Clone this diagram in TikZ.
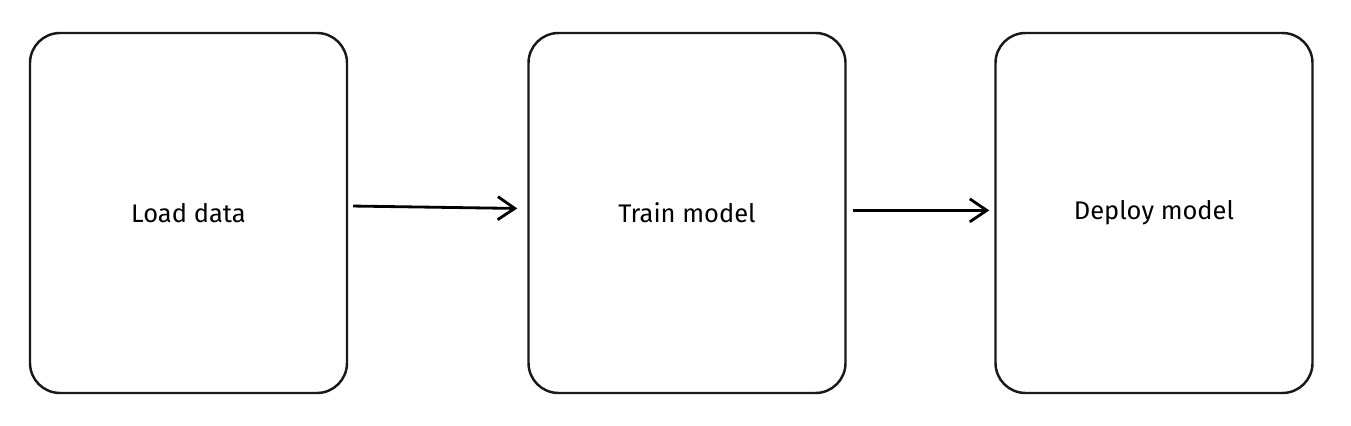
\documentclass[tikz,border=0pt]{standalone}
\usepackage{fontspec}
\setmainfont{Fira Sans}
\usetikzlibrary{arrows.meta}

\def\bw{6.34cm}
\def\bh{7.2cm}
\def\yrow{-4.26}

\tikzset{
  stage/.style={draw=black!90, line width=1.4pt, rounded corners=0.6cm,
    minimum width=\bw, minimum height=\bh, align=center,
    font=\fontsize{14.5}{17}\selectfont},
  flow/.style={line width=1.6pt, -{Straight Barb[length=0.34cm,width=0.46cm,line width=1.6pt]}}
}

\begin{document}
\begin{tikzpicture}
 \useasboundingbox (0,0) rectangle (27.02,-8.52);

 \node[stage] (load)   at (3.77,\yrow)  {Load data};
 \node[stage] (train)  at (13.74,\yrow) {Train model};
 \node[stage] (deploy) at (23.08,\yrow) {Deploy model};

 % pfeile zwischen den stufen
 \draw[flow, shorten <=0.1cm, shorten >=0.2cm] ([yshift=4pt]load.east) -- ([yshift=2.5pt]train.west);
 \draw[flow, shorten <=0.12cm, shorten >=0.1cm] ([yshift=1.5pt]train.west -| train.east) -- ([yshift=1.5pt]deploy.west);
\end{tikzpicture}
\end{document}
